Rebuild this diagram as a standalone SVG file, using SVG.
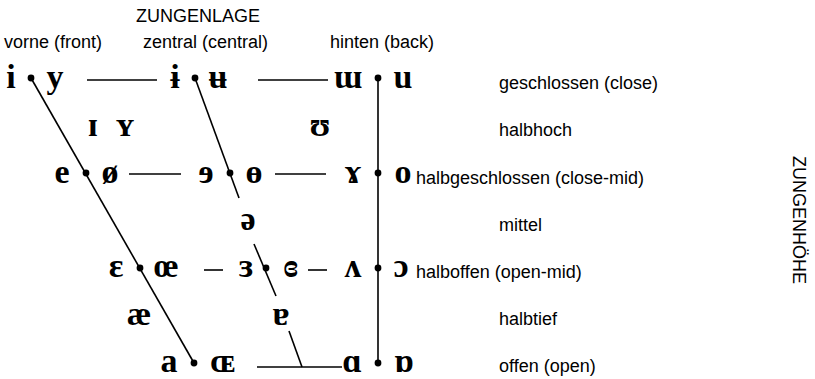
<svg xmlns="http://www.w3.org/2000/svg" width="815" height="379" viewBox="0 0 815 379">
<style>
.lbl{font-family:"Liberation Sans",Arial,sans-serif;font-size:18px;fill:#000}
.v{font-family:"Liberation Serif","DejaVu Serif",serif;font-weight:bold;font-size:34px;fill:#000;text-anchor:middle}
.ln{stroke:#000;stroke-width:1.6;fill:none}
.dot{fill:#000}
</style>
<rect width="815" height="379" fill="#fff"/>
<g id="headers">
<text class="lbl" x="136" y="22">ZUNGENLAGE</text>
<text class="lbl" x="4" y="48">vorne (front)</text>
<text class="lbl" x="143" y="48">zentral (central)</text>
<text class="lbl" x="330" y="48">hinten (back)</text>
<text class="lbl" transform="translate(793,220) rotate(90)" text-anchor="middle">ZUNGENHÖHE</text>
</g>
<g id="row-labels">
<text class="lbl" x="499" y="89">geschlossen (close)</text>
<text class="lbl" x="499" y="136">halbhoch</text>
<text class="lbl" x="416" y="184">halbgeschlossen (close-mid)</text>
<text class="lbl" x="499" y="231">mittel</text>
<text class="lbl" x="416" y="278">halboffen (open-mid)</text>
<text class="lbl" x="499" y="325">halbtief</text>
<text class="lbl" x="499" y="372">offen (open)</text>
</g>
<g id="connectors">
<line class="ln" x1="31" y1="78" x2="194" y2="363"/>
<line class="ln" x1="195" y1="78" x2="239" y2="198"/>
<line class="ln" x1="254" y1="244" x2="276" y2="296"/>
<line class="ln" x1="289" y1="331" x2="302" y2="367"/>
<line class="ln" x1="378" y1="78" x2="378" y2="363"/>
<line class="ln" x1="87" y1="80" x2="157" y2="80"/>
<line class="ln" x1="258" y1="80" x2="328" y2="80"/>
<line class="ln" x1="129" y1="174" x2="181" y2="174"/>
<line class="ln" x1="275" y1="174" x2="326" y2="174"/>
<line class="ln" x1="204" y1="270" x2="223" y2="270"/>
<line class="ln" x1="308" y1="270" x2="327" y2="270"/>
<line class="ln" x1="257" y1="367" x2="342" y2="367"/>
</g>
<g id="dots">
<circle class="dot" cx="31" cy="78" r="3.4"/>
<circle class="dot" cx="195" cy="78" r="3.4"/>
<circle class="dot" cx="378" cy="78" r="3.4"/>
<circle class="dot" cx="86" cy="173" r="3.4"/>
<circle class="dot" cx="230" cy="173" r="3.4"/>
<circle class="dot" cx="378" cy="173" r="3.4"/>
<circle class="dot" cx="140" cy="268" r="3.4"/>
<circle class="dot" cx="266" cy="268" r="3.4"/>
<circle class="dot" cx="378" cy="268" r="3.4"/>
<circle class="dot" cx="194" cy="363" r="3.4"/>
<circle class="dot" cx="378" cy="363" r="3.4"/>
</g>
<g id="close-front"><text class="v" x="11" y="88">i</text><text class="v" x="55" y="88">y</text></g>
<g id="close-central"><text class="v" x="175" y="88">ɨ</text><text class="v" x="218" y="88">ʉ</text></g>
<g id="close-back"><text class="v" x="348" y="88">ɯ</text><text class="v" x="403" y="88">u</text></g>
<g id="nearclose"><text class="v" x="93" y="136">ɪ</text><text class="v" x="125" y="136">ʏ</text><text class="v" x="320" y="136">ʊ</text></g>
<g id="closemid-front"><text class="v" x="62" y="183">e</text><text class="v" x="110" y="183">ø</text></g>
<g id="closemid-central"><text class="v" x="206" y="183">ɘ</text><text class="v" x="254" y="183">ɵ</text></g>
<g id="closemid-back"><text class="v" x="353" y="183">ɤ</text><text class="v" x="403" y="183">o</text></g>
<g id="mid"><text class="v" x="248" y="230">ə</text></g>
<g id="openmid-front"><text class="v" x="116" y="277">ɛ</text><text class="v" x="166" y="277">œ</text></g>
<g id="openmid-central"><text class="v" x="246" y="277">ɜ</text><text class="v" x="291" y="277">ɞ</text></g>
<g id="openmid-back"><text class="v" x="353" y="277">ʌ</text><text class="v" x="401" y="277">ɔ</text></g>
<g id="nearopen"><text class="v" x="139" y="325">æ</text><text class="v" x="281" y="325">ɐ</text></g>
<g id="open-front"><text class="v" x="169" y="372">a</text><text class="v" x="223" y="372">ɶ</text></g>
<g id="open-back"><text class="v" x="352" y="372">ɑ</text><text class="v" x="404" y="372">ɒ</text></g>
</svg>
